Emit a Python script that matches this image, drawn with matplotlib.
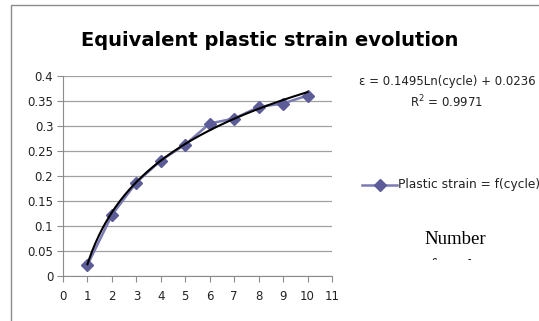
import numpy as np
import matplotlib.pyplot as plt
from matplotlib.patches import Rectangle
from matplotlib.lines import Line2D

# data
cycles = [1, 2, 3, 4, 5, 6, 7, 8, 9, 10]
strain = [0.022, 0.122, 0.187, 0.231, 0.263, 0.305, 0.315, 0.338, 0.345, 0.361]
fit_a = 0.1495
fit_b = 0.0236
x_ticks = list(range(0, 12))
y_ticks = [0, 0.05, 0.1, 0.15, 0.2, 0.25, 0.3, 0.35, 0.4]

W, H = 539, 321
fig = plt.figure(figsize=(W / 100, H / 100), dpi=100)
fig.patch.set_facecolor("white")

# outer chart frame (cut off at right and bottom)
fig.patches.append(Rectangle((11 / W, -0.1), 1.2, (H - 5) / H + 0.1,
                             transform=fig.transFigure, fill=False,
                             edgecolor="#8c8c8c", linewidth=1.0))

ax = fig.add_axes([63 / W, 1 - 276 / H, (332 - 63) / W, (276 - 76) / H])
ax.set_xlim(0, 11)
ax.set_ylim(0, 0.4)
ax.set_xticks(x_ticks)
ax.set_yticks(y_ticks)
ax.set_yticklabels(["0", "0.05", "0.1", "0.15", "0.2", "0.25", "0.3", "0.35", "0.4"])
ax.yaxis.grid(True, color="#a0a0a0", linewidth=0.9)
ax.set_axisbelow(True)
for s in ["top", "right"]:
    ax.spines[s].set_visible(False)
for s in ["left", "bottom"]:
    ax.spines[s].set_color("#8c8c8c")
ax.tick_params(axis="both", direction="out", length=4, color="#8c8c8c",
               labelsize=8.5, labelcolor="#222222", pad=3)
ax.tick_params(axis="x", pad=6)

mcol = "#5c5c98"
ax.plot(cycles, strain, color="#7a7ab4", linewidth=1.8, marker="D",
        markersize=6.5, markerfacecolor=mcol, markeredgecolor=mcol, zorder=3)

xf = np.linspace(1, 10, 200)
ax.plot(xf, fit_a * np.log(xf) + fit_b, color="black", linewidth=1.5, zorder=4)

fig.text(270 / W, 1 - 40 / H, "Equivalent plastic strain evolution",
         ha="center", va="center", fontsize=14, fontweight="bold")

fig.text(447 / W, 1 - 82 / H, "ε = 0.1495Ln(cycle) + 0.0236",
         ha="center", va="center", fontsize=8.5, color="#222222")
fig.text(447 / W, 1 - 102 / H, "R$^2$ = 0.9971",
         ha="center", va="center", fontsize=8.5, color="#222222")

# legend entry
leg_y = 1 - 185 / H
fig.add_artist(Line2D([362 / W, 397 / W], [leg_y, leg_y], transform=fig.transFigure,
                      color="#7a7ab4", linewidth=1.8))
fig.add_artist(Line2D([379.5 / W], [leg_y], transform=fig.transFigure, marker="D",
                      markersize=6.5, color=mcol))
fig.text(398 / W, leg_y, "Plastic strain = f(cycle)", ha="left", va="center",
         fontsize=8.8, color="#222222")

fig.text(455 / W, 1 - 240 / H, "Number", ha="center", va="center",
         fontsize=13.5, family="Liberation Serif")
t2 = fig.text(455 / W, 1 - 267 / H, "of cycles", ha="center", va="center",
              fontsize=13.5, family="Liberation Serif")
clip = Rectangle((0, 1 - 260 / H), 1, 1, transform=fig.transFigure)
t2.set_clip_path(clip)

fig.savefig("out.png", dpi=100)
